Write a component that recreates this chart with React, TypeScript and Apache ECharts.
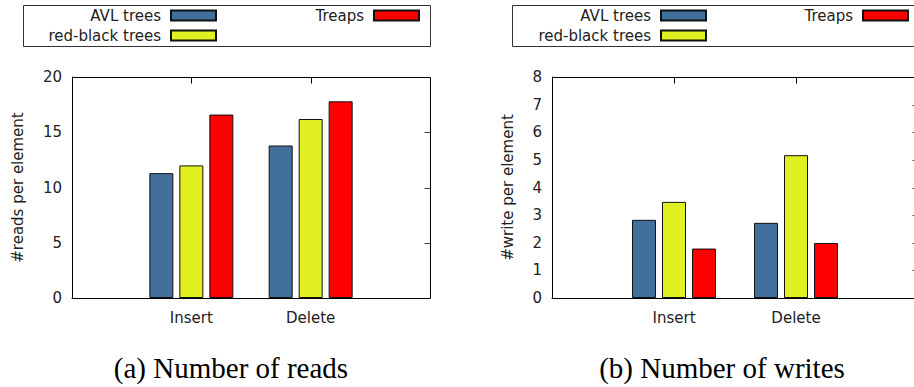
import React, { useEffect, useRef } from "react";
import * as echarts from "echarts";

const categories = ["Insert", "Delete"];
const seriesNames = ["AVL trees", "red-black trees", "Treaps"];
const readsAVL = [11.3, 13.8];
const readsRB = [12.0, 16.2];
const readsTreap = [16.6, 17.8];
const writesAVL = [2.83, 2.72];
const writesRB = [3.48, 5.17];
const writesTreap = [1.79, 1.99];
const readsTicks = { min: 0, max: 20, interval: 5 };
const writesTicks = { min: 0, max: 8, interval: 1 };
const captions = ["(a) Number of reads", "(b) Number of writes"];
const yNames = ["#reads per element", "#write per element"];

const colors = ["#41709c", "#e0f020", "#ff0000"];
const FONT = "DejaVu Sans";

export default function App() {
  const ref = useRef<HTMLDivElement>(null);
  useEffect(() => {
    if (!ref.current) return;
    const chart = echarts.init(ref.current, null, { renderer: "svg" });
    const axisCats = [" ", ...categories, "  "];
    const pad = (arr: number[]) => [null, ...arr, null];
    const grids = [
      { left: 72, top: 77, width: 358, height: 221 },
      { left: 552, top: 77, width: 366, height: 221 },
    ];
    const ticks = [readsTicks, writesTicks];
    const data = [
      [readsAVL, readsRB, readsTreap],
      [writesAVL, writesRB, writesTreap],
    ];
    const nameGaps = [47, 37];
    const line = () => ({ show: true, onZero: false, lineStyle: { color: "#000", width: 1 } });
    const crisp = (v: number) => Math.round(v) + 0.5;

    const xAxis: any[] = [];
    const yAxis: any[] = [];
    const series: any[] = [];
    grids.forEach((_, g) => {
      xAxis.push({
        type: "category",
        gridIndex: g,
        data: axisCats,
        boundaryGap: false,
        position: "bottom",
        axisLine: line(),
        axisTick: { show: false },
        axisLabel: { fontFamily: FONT, fontSize: 15, margin: 12, interval: 0, color: "#222" },
      });
      yAxis.push({
        type: "value",
        gridIndex: g,
        min: ticks[g].min,
        max: ticks[g].max,
        interval: ticks[g].interval,
        position: "left",
        name: yNames[g],
        nameLocation: "middle",
        nameGap: nameGaps[g],
        nameTextStyle: { fontFamily: FONT, fontSize: 15, color: "#222" },
        axisLine: line(),
        axisTick: { show: false },
        axisLabel: { fontFamily: FONT, fontSize: 15, margin: 10, color: "#222" },
        splitLine: { show: false },
      });
      seriesNames.forEach((name, s) => {
        series.push({
          type: "bar",
          name,
          xAxisIndex: g,
          yAxisIndex: g,
          data: pad(data[g][s]),
          barWidth: 24,
          barGap: "25%",
          itemStyle: { color: colors[s], borderColor: "#111", borderWidth: 1 },
        });
      });
      // plot frame (top and right edges) with mirrored ticks, placed through the axes' own scales
      const t = ticks[g];
      series.push({
        type: "custom",
        name: "frame" + g,
        xAxisIndex: g,
        yAxisIndex: g,
        clip: false,
        silent: true,
        z: 5,
        data: [[0, t.min]],
        renderItem: (_p: any, api: any) => {
          const tl = api.coord([0, t.max]);
          const br = api.coord([axisCats.length - 1, t.min]);
          const x0 = crisp(tl[0]);
          const y0 = crisp(tl[1]);
          const x1 = crisp(br[0]);
          const y1 = crisp(br[1]);
          const children: any[] = [
            {
              type: "polyline",
              shape: { points: [[x0, y0], [x1, y0], [x1, y1]] },
              style: { fill: "none", stroke: "#000", lineWidth: 1 },
            },
          ];
          for (let v = t.min + t.interval; v < t.max; v += t.interval) {
            const y = crisp(api.coord([0, v])[1]);
            children.push({
              type: "line",
              shape: { x1: x1 - 6, y1: y, x2: x1, y2: y },
              style: { stroke: "#444", lineWidth: 1 },
            });
          }
          categories.forEach((_c, ci) => {
            const x = crisp(api.coord([ci + 1, t.max])[0]);
            children.push({
              type: "line",
              shape: { x1: x, y1: y0, x2: x, y2: y0 + 6 },
              style: { stroke: "#000", lineWidth: 1 },
            });
          });
          return { type: "group", children };
        },
      });
    });

    const W = 914;
    const mkLegend = (name: string, right: number, top: number) => ({
      data: [name],
      right,
      top,
      orient: "horizontal",
      align: "right",
      padding: 0,
      itemWidth: 45,
      itemHeight: 10,
      icon: "rect",
      selectedMode: false,
      textStyle: {
        fontFamily: FONT,
        fontSize: 15,
        color: "#222",
        lineHeight: 14,
        padding: [0, 5, 0, 0],
      },
    });
    const legend = [
      mkLegend(seriesNames[0], W - 217, 8),
      mkLegend(seriesNames[1], W - 217, 28),
      mkLegend(seriesNames[2], W - 420, 8),
      mkLegend(seriesNames[0], W - 707, 8),
      mkLegend(seriesNames[1], W - 707, 28),
      mkLegend(seriesNames[2], W - 909, 8),
    ];

    const capFont = "29px 'Liberation Serif'";
    chart.setOption({
      animation: false,
      backgroundColor: "#fff",
      grid: grids.map((gr) => ({ ...gr, show: false, containLabel: false, outerBoundsMode: "none" })),
      xAxis,
      yAxis,
      series,
      legend,
      graphic: [
        {
          type: "rect",
          shape: { x: 23.5, y: 5.5, width: 407, height: 41 },
          style: { fill: "none", stroke: "#333", lineWidth: 1 },
          silent: true,
        },
        {
          type: "rect",
          shape: { x: 512.5, y: 5.5, width: 410, height: 41 },
          style: { fill: "none", stroke: "#333", lineWidth: 1 },
          silent: true,
        },
        {
          type: "text",
          x: 231,
          y: 368,
          style: { text: captions[0], font: capFont, fill: "#000", align: "center", verticalAlign: "middle" },
        },
        {
          type: "text",
          x: 722,
          y: 368,
          style: { text: captions[1], font: capFont, fill: "#000", align: "center", verticalAlign: "middle" },
        },
      ],
    });
    return () => chart.dispose();
  }, []);
  return <div ref={ref} style={{ width: 914, height: 387, position: "absolute", left: 0, top: 0 }} />;
}
